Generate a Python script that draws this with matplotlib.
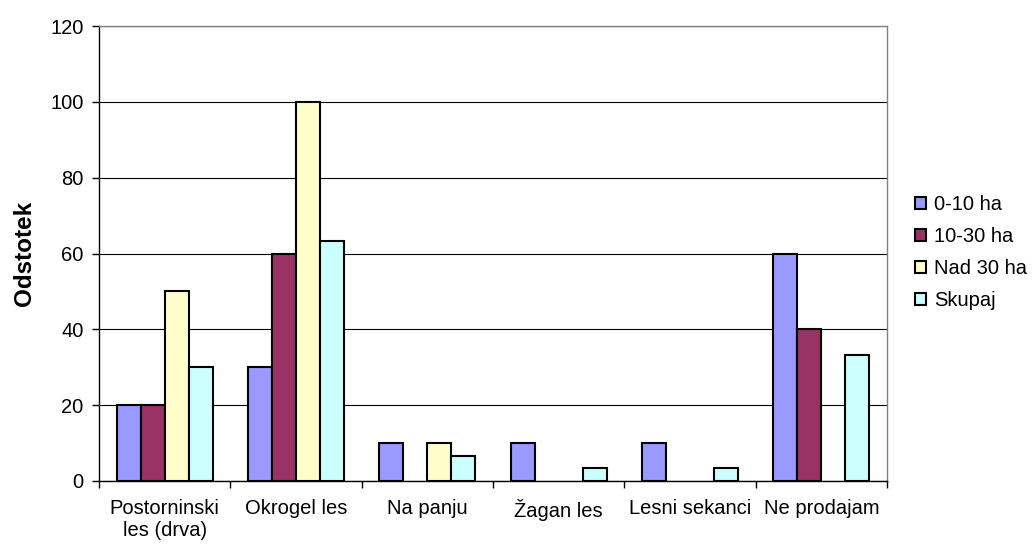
import matplotlib
matplotlib.use("Agg")
import matplotlib.pyplot as plt
import numpy as np

categories = ["Postorninski\nles (drva)", "Okrogel les", "Na panju", "Žagan les", "Lesni sekanci", "Ne prodajam"]
series_names = ["0-10 ha", "10-30 ha", "Nad 30 ha", "Skupaj"]
v_0_10 = [20, 30, 10, 10, 10, 60]
v_10_30 = [20, 60, 0, 0, 0, 40]
v_nad30 = [50, 100, 10, 0, 0, 0]
v_skupaj = [30, 63.3, 6.7, 3.3, 3.3, 33.3]
colors = ["#9999FF", "#993366", "#FFFFCC", "#CCFFFF"]

plt.rcParams['font.family'] = ['Liberation Sans', 'DejaVu Sans']

fig = plt.figure(figsize=(10.32, 5.48), dpi=100)
ax = fig.add_axes([99/1032, 1-481/548, (887-99)/1032, (481-26)/548])

x = np.arange(len(categories))
w = 0.183
data = [v_0_10, v_10_30, v_nad30, v_skupaj]
for i, (vals, c, name) in enumerate(zip(data, colors, series_names)):
    vals = np.array(vals, dtype=float)
    lws = [1.5 if v > 0 else 0 for v in vals]
    ax.bar(x + (i - 1.5) * w, vals, width=w, color=c, edgecolor="black", linewidth=lws, label=name, zorder=3)

ax.set_xlim(-0.5, len(categories) - 0.5)
ax.set_ylim(0, 120)
ax.set_yticks(range(0, 121, 20))
ax.yaxis.grid(True, color="#000000", linewidth=0.8, zorder=0)
ax.set_axisbelow(True)
ax.set_xticks(x)
ax.set_xticklabels(categories, fontsize=14.5)
ax.set_xticks(np.arange(-0.5, len(categories)), minor=True)
ax.tick_params(axis="x", which="major", length=0, pad=13)
ax.tick_params(axis="x", which="minor", length=5, direction="out", width=1)
ax.tick_params(axis="y", length=5, direction="out", labelsize=14.5, width=1, pad=6)
for s in ["top", "right"]:
    ax.spines[s].set_color("#808080")
    ax.spines[s].set_linewidth(1)
for s in ["left", "bottom"]:
    ax.spines[s].set_color("black")
    ax.spines[s].set_linewidth(1)
ax.set_ylabel("Odstotek", fontsize=17.5, fontweight="bold", labelpad=10)

leg = ax.legend(loc="upper left", bbox_to_anchor=(915/1032, 1-195/548), bbox_transform=fig.transFigure,
                frameon=False, fontsize=14.5, handlelength=0.55, handleheight=0.55, handletextpad=0.4,
                labelspacing=0.65, borderpad=0, borderaxespad=0)
for h in leg.legend_handles:
    h.set_linewidth(1.5)

fig.savefig("out.png", dpi=100)
